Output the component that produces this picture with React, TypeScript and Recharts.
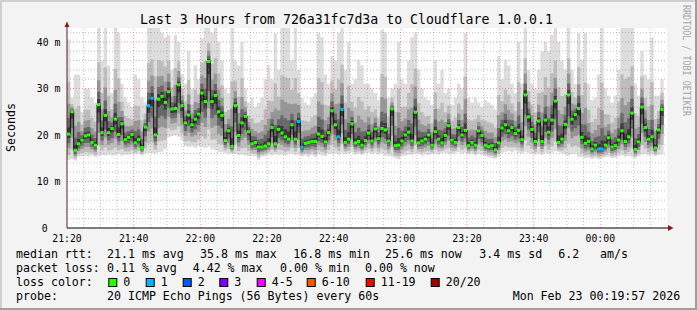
import React from 'react';
import { ComposedChart, Area, Line, XAxis, YAxis, ReferenceLine } from 'recharts';

// one sample per minute starting 21:20, values in ms
const medianMs = [
  20.2, 25.0, 16.7, 18.1, 18.9, 19.8, 20.0, 18.4, 17.8, 26.5,
  20.5, 24.2, 20.5, 21.4, 23.4, 20.1, 22.4, 19.0, 19.5, 20.1,
  18.3, 19.0, 17.3, 21.7, 26.3, 27.9, 20.0, 27.7, 28.3, 27.0,
  29.3, 25.6, 25.7, 30.8, 26.3, 22.6, 24.3, 22.2, 23.4, 24.5,
  29.0, 27.2, 35.8, 27.2, 28.5, 25.0, 24.2, 18.8, 20.9, 17.5,
  26.3, 19.9, 22.6, 24.0, 20.7, 18.1, 18.4, 17.4, 17.4, 17.6,
  18.1, 21.6, 18.1, 21.2, 20.4, 19.6, 19.1, 22.2, 19.1, 22.9,
  17.4, 18.2, 18.4, 18.6, 18.6, 20.2, 19.7, 18.5, 20.5, 25.2,
  22.2, 19.6, 25.5, 18.4, 19.1, 22.4, 18.3, 18.6, 17.8, 18.8,
  20.4, 18.7, 21.3, 19.2, 21.4, 21.1, 18.7, 25.6, 17.7, 17.8,
  18.7, 20.0, 20.6, 18.7, 24.9, 18.3, 18.7, 19.1, 20.0, 17.8,
  20.7, 19.1, 18.3, 19.9, 22.0, 18.9, 18.4, 21.6, 20.0, 21.0,
  17.7, 18.4, 17.8, 20.9, 19.9, 17.8, 17.5, 17.7, 16.8, 18.3,
  21.5, 22.2, 20.9, 21.6, 20.3, 21.0, 19.0, 28.6, 23.9, 21.2,
  18.6, 23.0, 18.6, 23.2, 20.6, 23.2, 27.3, 18.4, 19.1, 22.3,
  28.6, 23.4, 24.4, 25.7, 19.5, 18.2, 18.6, 17.0, 17.8, 17.0,
  17.0, 17.8, 19.4, 17.4, 17.7, 18.9, 20.9, 18.6, 19.6, 24.7,
  16.9, 18.5, 26.0, 21.6, 19.1, 19.6, 17.2, 21.1, 25.5,
];

const minMs = [
  14.6, 14.8, 14.5, 15.3, 15.4, 15.5, 15.3, 15.6, 15.2, 15.5,
  15.7, 15.6, 15.8, 15.6, 15.7, 15.9, 15.6, 15.8, 15.7, 15.9,
  15.8, 16.0, 15.6, 16.0, 16.2, 16.1, 16.0, 16.3, 16.4, 17.0,
  19.5, 19.8, 20.0, 19.6, 18.8, 17.6, 17.4, 17.5, 17.2, 17.6,
  17.4, 17.2, 17.5, 16.9, 16.7, 16.4, 16.3, 16.1, 16.0, 15.9,
  15.9, 15.7, 15.8, 15.6, 15.5, 15.6, 15.4, 14.6, 15.3, 15.5,
  15.8, 15.6, 15.9, 15.7, 15.8, 15.6, 15.9, 16.0, 15.7, 15.8,
  15.4, 15.6, 15.3, 15.7, 15.2, 15.8, 15.6, 15.5, 15.9, 16.0,
  16.1, 15.8, 16.2, 15.9, 16.0, 16.3, 15.8, 16.0, 15.7, 16.1,
  16.2, 15.9, 16.1, 15.8, 16.0, 15.6, 15.5, 15.3, 15.0, 14.8,
  15.4, 15.6, 15.8, 15.7, 16.0, 15.9, 15.6, 15.8, 15.7, 15.9,
  16.0, 15.8, 16.1, 16.2, 16.0, 15.9, 16.1, 16.3, 16.0, 16.2,
  15.8, 16.0, 15.6, 15.9, 15.7, 15.5, 15.2, 15.0, 14.9, 15.3,
  16.2, 16.4, 16.5, 16.3, 16.6, 16.2, 16.0, 16.4, 16.1, 15.9,
  15.8, 16.0, 15.7, 16.1, 15.9, 16.2, 16.5, 16.3, 16.0, 15.8,
  15.6, 15.9, 16.0, 15.3, 15.2, 15.0, 15.1, 14.9, 15.0, 14.8,
  15.0, 15.2, 15.3, 15.0, 15.1, 15.4, 15.6, 15.3, 15.5, 15.2,
  15.0, 15.4, 15.8, 15.9, 15.6, 15.8, 15.5, 15.7, 15.9,
];

const maxMs = [
  40.6, 28.0, 33.0, 33.0, 25.0, 30.0, 30.0, 28.0, 27.0, 43.0,
  36.0, 43.0, 35.0, 29.0, 43.0, 42.0, 31.0, 28.0, 27.0, 26.0,
  33.0, 32.0, 28.0, 27.0, 43.0, 43.0, 43.0, 43.0, 42.0, 41.0,
  41.5, 34.0, 41.5, 40.0, 33.0, 31.0, 38.0, 30.0, 35.0, 32.0,
  40.8, 43.0, 43.0, 42.0, 43.0, 40.0, 36.0, 30.0, 29.0, 43.0,
  36.0, 35.0, 40.0, 30.0, 27.0, 28.0, 26.0, 27.0, 28.0, 32.0,
  35.0, 32.0, 41.8, 34.0, 43.0, 43.0, 43.0, 36.0, 43.0, 34.0,
  28.0, 27.0, 26.5, 28.0, 29.0, 42.0, 41.0, 33.0, 31.0, 37.0,
  36.0, 42.0, 43.0, 34.0, 40.0, 31.0, 32.0, 36.0, 35.0, 31.0,
  31.0, 30.0, 29.0, 27.5, 42.6, 42.0, 28.0, 30.0, 31.0, 40.0,
  32.0, 31.0, 36.0, 41.0, 42.0, 34.0, 30.0, 28.0, 27.5, 26.5,
  36.0, 31.0, 34.0, 29.0, 30.0, 26.5, 28.0, 31.0, 30.0, 42.0,
  28.0, 27.0, 28.0, 27.0, 26.0, 27.5, 27.0, 26.5, 25.5, 37.0,
  32.0, 36.0, 35.0, 31.0, 29.0, 40.0, 31.0, 43.0, 34.0, 31.0,
  30.0, 34.0, 38.0, 40.0, 38.0, 41.5, 43.0, 40.0, 36.0, 34.0,
  43.0, 34.0, 31.0, 41.9, 36.0, 42.0, 31.0, 27.5, 28.0, 33.0,
  43.0, 30.0, 28.5, 27.0, 28.5, 34.0, 43.0, 43.0, 43.0, 43.0,
  31.0, 28.5, 38.0, 33.0, 32.0, 41.0, 28.5, 28.5, 32.0,
];

// samples where 1 of 20 pings was lost
const lossOneIdx = [24, 25, 69, 70, 81, 82, 159, 160];

const timeTicks = [0, 20, 40, 60, 80, 100, 120, 140, 160];
const timeLabels = ['21:20', '21:40', '22:00', '22:20', '22:40', '23:00', '23:20', '23:40', '00:00'];
const yTicks = [0, 10, 20, 30, 40];

const rttStats = ['21.1 ms avg', '35.8 ms max', '16.8 ms min', '25.6 ms now', '3.4 ms sd', '6.2', 'am/s'];
const lossStats = ['0.11 % avg', '4.42 % max', '0.00 % min', '0.00 % now'];
const lossLabels = ['0', '1', '2', '3', '4-5', '6-10', '11-19', '20/20'];
const lossColors = ['#26ff00', '#00b8ff', '#0059ff', '#7e00ff', '#ff00ff', '#ff5500', '#ff0000', '#a10000'];

const W = 697;
const H = 310;
const PLOT_L = 67;
const PLOT_T = 28;
const PLOT_W = 600;
const PLOT_H = 200;
const SPAN = 180;
const STEP_PX = PLOT_W / SPAN;
const FONT = "'DejaVu Sans Mono', monospace";

// smoke shading: outer layer = full ping range, inner layers pulled toward the median
const SMOKE = ['#dddddd', '#bdbdbd', '#969696', '#686868', '#3a3a3a'];
const LOW_F = [1, 0.8, 0.55, 0.35, 0.15];
const HIGH_F = [1, 0.55, 0.32, 0.17, 0.07];

const rows: any[] = medianMs.map((m, i) => {
  const lo = minMs[i];
  const hi = maxMs[i];
  const r: any = { t: i, med: m, color: lossColors[lossOneIdx.includes(i) ? 1 : 0] };
  SMOKE.forEach((_, k) => {
    r[`s${k}`] = [m - (m - lo) * LOW_F[k], m + (hi - m) * HIGH_F[k]];
  });
  return r;
});
// close the last step
rows.push({ ...rows[rows.length - 1], t: medianMs.length, closing: true });

const minorX: number[] = [];
for (let v = 5; v < SPAN; v += 5) if (v % 20 !== 0) minorX.push(v);
const majorX = timeTicks.filter((v) => v > 0);
const minorY: number[] = [];
for (let v = 2; v <= 42; v += 2) if (v % 10 !== 0) minorY.push(v);
const majorY = yTicks.filter((v) => v > 0);

const MINOR = 'rgba(150,150,150,0.6)';
const MAJOR = 'rgba(240,60,60,0.55)';

function XTick(props: any) {
  const idx = timeTicks.indexOf(props.payload.value);
  return (
    <text x={props.x} y={PLOT_T + PLOT_H + 13.5} textAnchor="middle" fontFamily={FONT} fontSize={9.8} fill="#000">
      {timeLabels[idx]}
    </text>
  );
}

function YTick(props: any) {
  const v = props.payload.value;
  return (
    <text x={v === 0 ? 47.7 : 60.4} y={props.y + 3.8} textAnchor="end" fontFamily={FONT} fontSize={9.8} fill="#000">
      {v === 0 ? '0' : `${v} m`}
    </text>
  );
}

const renderDot = (p: any) => {
  const { cx, cy, payload, index } = p;
  if (payload.closing || cx == null || cy == null) return <g key={`d${index}`} />;
  return <rect key={`d${index}`} x={cx} y={cy - 1.5} width={STEP_PX} height={3} fill={payload.color} />;
};

const rttX = [107, 200, 293.3, 385, 479.3, 558.3, 600];
const lossX = [107, 192.7, 280, 365];
const boxX = [108.3, 145.7, 182.7, 219.3, 256.7, 306.7, 365.7, 430.7];

export default function App() {
  const legendRow = (y: number) => ({ y, fontFamily: FONT, fontSize: 11.6, fill: '#000' });
  return (
    <div style={{ position: 'absolute', left: 0, top: 0, width: W, height: H, background: '#f3f3f3', overflow: 'hidden' }}>
      <svg width={W} height={H} style={{ position: 'absolute', left: 0, top: 0 }}>
        <rect x={0} y={0} width={W} height={2} fill="#cfcfcf" />
        <rect x={0} y={0} width={2} height={H} fill="#cfcfcf" />
        <rect x={0} y={H - 2} width={W} height={2} fill="#9e9e9e" />
        <rect x={W - 2} y={0} width={2} height={H} fill="#9e9e9e" />
        <rect x={PLOT_L} y={PLOT_T} width={PLOT_W} height={PLOT_H} fill="#ffffff" />
      </svg>
      <div style={{ position: 'absolute', left: 0, top: 0 }}>
        <ComposedChart width={W} height={H} data={rows} margin={{ top: PLOT_T, right: W - PLOT_L - PLOT_W, bottom: 0, left: 0 }}>
          <XAxis
            type="number"
            dataKey="t"
            domain={[0, SPAN]}
            ticks={timeTicks}
            interval={0}
            allowDataOverflow
            height={H - PLOT_T - PLOT_H}
            axisLine={{ stroke: '#000' }}
            tickLine={false}
            tick={XTick}
          />
          <YAxis
            type="number"
            domain={[0, 43]}
            ticks={yTicks}
            interval={0}
            allowDataOverflow
            width={PLOT_L}
            axisLine={{ stroke: '#5a1e1e' }}
            tickLine={false}
            tick={YTick}
          />
          {SMOKE.map((c, k) => (
            <Area
              key={c}
              dataKey={`s${k}`}
              type="stepAfter"
              fill={c}
              fillOpacity={1}
              stroke="none"
              dot={false}
              activeDot={false}
              isAnimationActive={false}
            />
          ))}
          {minorX.map((v) => (
            <ReferenceLine key={`mx${v}`} x={v} stroke={MINOR} strokeDasharray="1 2" />
          ))}
          {minorY.map((v) => (
            <ReferenceLine key={`my${v}`} y={v} stroke={MINOR} strokeDasharray="1 2" />
          ))}
          {majorX.map((v) => (
            <ReferenceLine key={`Mx${v}`} x={v} stroke={MAJOR} strokeDasharray="1 2" />
          ))}
          {majorY.map((v) => (
            <ReferenceLine key={`My${v}`} y={v} stroke={MAJOR} strokeDasharray="1 2" />
          ))}
          <Line
            dataKey="med"
            type="stepAfter"
            stroke="#111"
            strokeWidth={1}
            dot={renderDot}
            activeDot={false}
            isAnimationActive={false}
          />
        </ComposedChart>
      </div>
      <svg width={W} height={H} style={{ position: 'absolute', left: 0, top: 0, pointerEvents: 'none' }}>
        <line x1={PLOT_L + PLOT_W} y1={228} x2={669} y2={228} stroke="#000" />
        <polygon points="668,225 673.5,228 668,231" fill="#8b1a1a" />
        <line x1={67} y1={PLOT_T} x2={67} y2={25} stroke="#5a1e1e" />
        <polygon points="64.5,27 67,21.5 69.5,27" fill="#8b1a1a" />
        <text x={346.5} y={24} textAnchor="middle" fontFamily={FONT} fontSize={13.2} fill="#000">
          Last 3 Hours from 726a31fc7d3a to Cloudflare 1.0.0.1
        </text>
        <text x={15} y={127.5} textAnchor="middle" fontFamily={FONT} fontSize={11.6} fill="#000" transform="rotate(-90 15 127.5)">
          Seconds
        </text>
        <text
          x={683}
          y={5}
          fontFamily={FONT}
          fontSize={11}
          fill="#a6a6a6"
          textLength={111}
          lengthAdjust="spacingAndGlyphs"
          transform="rotate(90 683 5)"
        >
          RRDTOOL / TOBI OETIKER
        </text>
        <text x={16} {...legendRow(258)}>median rtt:</text>
        {rttStats.map((s, i) => (
          <text key={s} x={rttX[i]} {...legendRow(258)}>{s}</text>
        ))}
        <text x={16} {...legendRow(272)}>packet loss:</text>
        {lossStats.map((s, i) => (
          <text key={s} x={lossX[i]} {...legendRow(272)}>{s}</text>
        ))}
        <text x={16} {...legendRow(286)}>loss color:</text>
        {lossLabels.map((s, i) => (
          <g key={s}>
            <rect x={boxX[i] + 0.5} y={278.5} width={8} height={8} fill={lossColors[i]} stroke="#000" />
            <text x={boxX[i] + 15} {...legendRow(286)}>{s}</text>
          </g>
        ))}
        <text x={16} {...legendRow(300)}>probe:</text>
        <text x={107} {...legendRow(300)}>20 ICMP Echo Pings (56 Bytes) every 60s</text>
        <text x={512.7} {...legendRow(300)}>Mon Feb 23 00:19:57 2026</text>
      </svg>
    </div>
  );
}
